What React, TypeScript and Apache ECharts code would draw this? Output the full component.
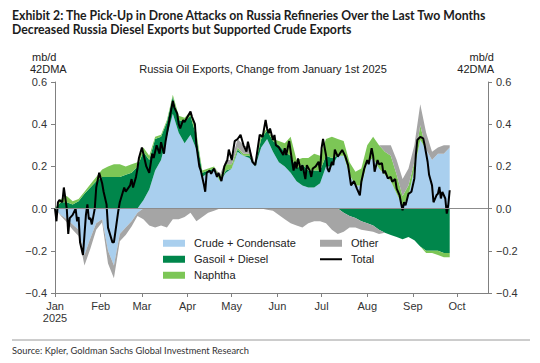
import React, { useEffect, useRef } from "react";
import * as echarts from "echarts";

// Days since 2025-01-01 for the stacked components (4-day grid)
const stackDays = [
  0, 4, 8, 12, 16, 20, 24, 28, 32, 36,
  40, 44, 48, 52, 56, 60, 64, 68, 72, 76,
  80, 84, 88, 92, 96, 100, 104, 108, 112, 116,
  120, 124, 128, 132, 136, 140, 144, 148, 152, 156,
  160, 164, 168, 172, 176, 180, 184, 188, 192, 196,
  200, 204, 208, 212, 216, 220, 224, 228, 232, 236,
  240, 244, 248, 252, 256, 260, 264, 268,
];

const crude = [
  0, -0.03, -0.05, -0.075, -0.1, -0.22, -0.14, -0.07, -0.05, -0.2,
  -0.27, -0.12, -0.09, -0.06, -0.02, 0.04, 0.09, 0.18, 0.23, 0.34,
  0.45, 0.36, 0.31, 0.35, 0.28, 0.15, 0.17, 0.18, 0.13, 0.17,
  0.19, 0.27, 0.25, 0.24, 0.2, 0.29, 0.33, 0.27, 0.22, 0.2,
  0.17, 0.13, 0.11, 0.1, 0.1, 0.12, 0.2, 0.2, 0.25, 0.25,
  0.16, 0.11, 0.11, 0.22, 0.24, 0.19, 0.16, 0.13, 0.07, 0.01,
  0.06, 0.19, 0.325, 0.28, 0.23, 0.26, 0.26, 0.29,
];

const gasoil = [
  0, 0.03, 0.03, 0.02, 0.035, 0.07, 0.1, 0.13, 0.15, 0.15,
  0.15, 0.15, 0.16, 0.17, 0.2, 0.23, 0.14, 0.15, 0.11, 0.07,
  0.08, 0.06, 0.1, 0.09, 0.06, 0.02, 0.01, 0.01, 0.0, 0.01,
  0.0, 0.01, 0.0, 0.01, 0.01, 0.04, 0.04, 0.05, 0.08, 0.07,
  0.08, 0.06, 0.1, 0.08, 0.08, 0.06, 0.05, 0.04, 0.0, -0.02,
  -0.035, -0.045, -0.06, -0.07, -0.08, -0.1, -0.115, -0.125, -0.135, -0.145,
  -0.135, -0.15, -0.18, -0.2, -0.2, -0.2, -0.21, -0.21,
];

const naphtha = [
  0, 0.015, 0.03, 0.015, 0.01, 0.01, 0.015, 0.02, 0.035, 0.05,
  0.06, 0.06, 0.04, 0.04, 0.02, 0.02, 0.02, 0.01, 0.01, 0.01,
  0.01, 0.02, 0.02, 0.02, 0.02, 0.01, 0.01, 0.01, 0.02, 0.03,
  0.02, 0.01, 0.01, 0.01, 0.0, 0.02, 0.01, 0.01, 0.02, 0.04,
  0.09, 0.04, 0.03, 0.06, 0.08, 0.07, 0.08, 0.1, 0.08, 0.07,
  0.06, 0.065, 0.08, 0.08, 0.1, 0.11, 0.11, 0.12, 0.09, 0.05,
  0.05, 0.03, 0.07, -0.01, -0.01, -0.02, -0.02, -0.02,
];

const other = [
  0, -0.005, -0.015, -0.025, -0.03, -0.05, -0.05, -0.03, -0.015, -0.06,
  -0.06, -0.035, -0.035, -0.025, -0.015, -0.05, -0.08, -0.09, -0.08, -0.09,
  -0.05, -0.05, -0.04, -0.02, -0.06, -0.04, -0.02, -0.01, 0.01, 0.02,
  0.02, 0.04, 0.04, 0.03, 0.0, 0.0, -0.005, -0.01, -0.03, -0.05,
  -0.07, -0.08, -0.09, -0.07, -0.06, -0.06, -0.07, -0.1, -0.12, -0.09,
  -0.055, -0.045, -0.04, -0.035, -0.03, -0.02, 0.03, 0.05, 0.07, 0.08,
  0.08, 0.08, 0.1, 0.08, 0.04, 0.03, 0.04, 0.01,
];

// Total line (days since 2025-01-01, value)
const totalDays = [
  0, 1, 2, 3, 5, 6, 8, 9, 10, 12,
  14, 15, 16, 17, 19, 20, 21, 22, 23, 24,
  25, 27, 28, 30, 32, 33, 35, 36, 39, 40,
  41, 43, 44, 47, 48, 51, 52, 53, 55, 56,
  57, 59, 60, 62, 64, 66, 67, 69, 71, 72,
  74, 75, 78, 80, 81, 83, 84, 85, 87, 88,
  90, 92, 93, 95, 96, 98, 99, 101, 102, 103,
  105, 106, 108, 110, 111, 113, 115, 117, 118, 120,
  122, 124, 126, 128, 130, 131, 132, 134, 136, 137,
  139, 141, 143, 144, 145, 146, 148, 149, 150, 152,
  155, 156, 157, 159, 161, 162, 163, 164, 165, 167,
  168, 170, 171, 173, 174, 175, 177, 179, 180, 181,
  182, 184, 185, 186, 188, 189, 190, 192, 195, 197,
  199, 201, 203, 205, 207, 208, 210, 212, 213, 215,
  216, 217, 219, 220, 222, 223, 224, 226, 228, 229,
  231, 232, 234, 235, 236, 237, 238, 240, 242, 244,
  245, 246, 248, 250, 251, 253, 254, 256, 257, 259,
  260, 261, 262, 263, 265, 266, 267, 268,
];

const totalValues = [
  0.0, -0.06, 0.03, 0.04, 0.03, 0.1, 0.0, -0.12, -0.045, -0.03,
  0.0, -0.06, -0.04, -0.16, -0.22, -0.125, -0.03, 0.02, -0.05, -0.045,
  -0.075, 0.0, 0.1, 0.17, 0.12, 0.08, 0.02, -0.09, -0.16, -0.16,
  -0.11, -0.01, 0.03, 0.1, 0.08, 0.11, 0.14, 0.1, 0.15, 0.19,
  0.24, 0.29, 0.26, 0.2, 0.17, 0.26, 0.24, 0.3, 0.26, 0.315,
  0.26, 0.315, 0.435, 0.51, 0.48, 0.45, 0.4, 0.38, 0.42, 0.41,
  0.435, 0.46, 0.435, 0.4, 0.3, 0.2, 0.18, 0.117, 0.08, 0.17,
  0.18, 0.165, 0.19, 0.15, 0.17, 0.13, 0.2, 0.23, 0.28, 0.23,
  0.32, 0.33, 0.35, 0.3, 0.27, 0.317, 0.286, 0.222, 0.206, 0.254,
  0.35, 0.34, 0.42, 0.38, 0.357, 0.38, 0.325, 0.349, 0.3, 0.29,
  0.254, 0.286, 0.254, 0.32, 0.222, 0.18, 0.222, 0.19, 0.238, 0.18,
  0.206, 0.14, 0.206, 0.18, 0.15, 0.19, 0.2, 0.222, 0.174, 0.286,
  0.33, 0.254, 0.19, 0.174, 0.222, 0.206, 0.28, 0.246, 0.278, 0.25,
  0.206, 0.11, 0.13, 0.095, 0.063, 0.127, 0.19, 0.23, 0.21, 0.286,
  0.25, 0.175, 0.23, 0.21, 0.215, 0.167, 0.18, 0.143, 0.15, 0.127,
  0.14, 0.095, 0.063, 0.024, -0.008, 0.03, 0.016, 0.07, 0.08, 0.143,
  0.254, 0.325, 0.34, 0.333, 0.3, 0.222, 0.16, 0.11, 0.03, 0.063,
  0.07, 0.103, 0.048, 0.079, 0.048, -0.024, 0.016, 0.087,
];

const monthNames = ["Jan", "Feb", "Mar", "Apr", "May", "Jun", "Jul", "Aug", "Sep", "Oct", "Nov", "Dec"];
const seriesNames = ["Crude + Condensate", "Gasoil + Diesel", "Naphtha", "Other", "Total"];
const seriesColors = ["#a9cfee", "#00864b", "#7cc656", "#a5a5a5", "#000000"];
const axisStartDay = 0;
const axisEndDay = 294;

const dayToTime = (d: number) => new Date(2025, 0, 1 + d).getTime();

const fmtY = (v: number) => {
  const s = Math.abs(v) < 1e-9 ? "0.0" : v.toFixed(1);
  return s.replace("-", "\u2212");
};

export default function App() {
  const ref = useRef<HTMLDivElement>(null);

  useEffect(() => {
    if (!ref.current) return;
    const chart = echarts.init(ref.current, undefined, { renderer: "svg" });

    // Each component is split into its positive and negative parts so the
    // positive and negative stacks never cross each other.
    const areaSeries = (name: string, vals: number[], color: string, sign: 1 | -1) => ({
      name,
      type: "line",
      stack: sign > 0 ? "pos" : "neg",
      data: stackDays.map((d, i) => [
        dayToTime(d),
        sign > 0 ? Math.max(vals[i], 0) : Math.min(vals[i], 0),
      ]),
      symbol: "none",
      showSymbol: false,
      lineStyle: { width: 0, color },
      itemStyle: { color },
      areaStyle: { color, opacity: 1 },
      z: 2,
    });

    const components: [string, number[], string][] = [
      [seriesNames[0], crude, seriesColors[0]],
      [seriesNames[1], gasoil, seriesColors[1]],
      [seriesNames[2], naphtha, seriesColors[2]],
      [seriesNames[3], other, seriesColors[3]],
    ];

    const yAxisBase = {
      type: "value",
      min: -0.4,
      max: 0.6,
      interval: 0.2,
      axisLine: { show: true, lineStyle: { color: "#808080", width: 1 } },
      axisTick: { show: true, length: 4, inside: false, lineStyle: { color: "#808080" } },
      splitLine: { show: false },
      axisLabel: {
        formatter: fmtY,
        color: "#333",
        fontSize: 11,
        fontFamily: "Liberation Sans",
        margin: 8,
      },
    };

    const labelFont = "11px 'Liberation Sans'";
    const legendText = {
      fontSize: 11,
      color: "#222",
      fontFamily: "Liberation Sans",
      lineHeight: 12.5,
      padding: [0, 0, 0, 4],
    };

    chart.setOption({
      animation: false,
      backgroundColor: "#ffffff",
      grid: { left: 55, right: 52, top: 82, bottom: 70, containLabel: false },
      xAxis: {
        type: "time",
        min: dayToTime(axisStartDay),
        max: dayToTime(axisEndDay),
        splitNumber: 10,
        minInterval: 28 * 86400000,
        axisLine: { show: true, onZero: false, lineStyle: { color: "#808080", width: 1 } },
        axisTick: { show: true, length: 4, lineStyle: { color: "#808080" } },
        splitLine: { show: false },
        axisLabel: {
          color: "#333",
          fontSize: 11,
          fontFamily: "Liberation Sans",
          lineHeight: 12,
          margin: 7,
          hideOverlap: false,
          formatter: (val: number) => {
            const d = new Date(val);
            if (d.getDate() !== 1) return "";
            const m = d.getMonth();
            return m === 0 ? "Jan\n2025" : monthNames[m];
          },
        },
      },
      yAxis: [
        { ...yAxisBase, position: "left" },
        { ...yAxisBase, position: "right" },
      ],
      legend: [
        {
          data: [
            { name: seriesNames[0], icon: "rect" },
            { name: seriesNames[1], icon: "rect" },
            { name: seriesNames[2], icon: "rect" },
          ],
          orient: "vertical",
          left: 163,
          top: 237,
          padding: 0,
          itemWidth: 22,
          itemHeight: 7,
          itemGap: 3.5,
          selectedMode: false,
          textStyle: legendText,
        },
        {
          data: [{ name: seriesNames[3], icon: "rect" }],
          orient: "vertical",
          left: 320,
          top: 237,
          padding: 0,
          itemWidth: 22,
          itemHeight: 7,
          selectedMode: false,
          textStyle: legendText,
        },
        {
          data: [{ name: seriesNames[4], icon: "rect" }],
          orient: "vertical",
          left: 320,
          top: 253,
          padding: 0,
          itemWidth: 22,
          itemHeight: 2,
          selectedMode: false,
          textStyle: legendText,
        },
      ],
      series: [
        ...components.map(([n, v, c]) => areaSeries(n, v, c, 1)),
        ...components.map(([n, v, c]) => areaSeries(n, v, c, -1)),
        {
          name: seriesNames[4],
          type: "line",
          data: totalDays.map((d, i) => [dayToTime(d), totalValues[i]]),
          symbol: "none",
          showSymbol: false,
          lineStyle: { color: seriesColors[4], width: 2 },
          itemStyle: { color: seriesColors[4] },
          z: 4,
          markLine: {
            silent: true,
            symbol: "none",
            label: { show: false },
            lineStyle: { color: "#8c8c8c", width: 1.2, type: "solid" },
            data: [{ yAxis: 0 }],
          },
        },
      ],
      graphic: [
        {
          type: "text",
          x: 12,
          y: 15,
          style: {
            text: "Exhibit 2: The Pick-Up in Drone Attacks on Russia Refineries Over the Last Two Months",
            font: "bold 12.25px Lato",
            fill: "#1c1c1c",
            textVerticalAlign: "middle",
          },
        },
        {
          type: "text",
          x: 12,
          y: 29,
          style: {
            text: "Decreased Russia Diesel Exports but Supported Crude Exports",
            font: "bold 12.25px Lato",
            fill: "#1c1c1c",
            textVerticalAlign: "middle",
          },
        },
        { type: "text", x: 32, y: 57, style: { text: "mb/d", font: labelFont, fill: "#222", textVerticalAlign: "middle" } },
        { type: "text", x: 30, y: 69, style: { text: "42DMA", font: labelFont, fill: "#222", textVerticalAlign: "middle" } },
        { type: "text", x: 494, y: 57, style: { text: "mb/d", font: labelFont, fill: "#222", textAlign: "right", textVerticalAlign: "middle" } },
        { type: "text", x: 494, y: 69, style: { text: "42DMA", font: labelFont, fill: "#222", textAlign: "right", textVerticalAlign: "middle" } },
        {
          type: "text",
          x: 263,
          y: 69,
          style: {
            text: "Russia Oil Exports, Change from January 1st 2025",
            font: labelFont,
            fill: "#222",
            textAlign: "center",
            textVerticalAlign: "middle",
          },
        },
        {
          type: "line",
          shape: { x1: 12, y1: 340, x2: 530, y2: 340 },
          style: { stroke: "#9a9a9a", lineWidth: 1 },
        },
        {
          type: "text",
          x: 12,
          y: 350,
          style: {
            text: "Source: Kpler, Goldman Sachs Global Investment Research",
            font: "9.3px Lato",
            fill: "#333",
            textVerticalAlign: "middle",
          },
        },
      ],
    });

    return () => chart.dispose();
  }, []);

  return (
    <div
      ref={ref}
      style={{ position: "fixed", left: 0, top: 0, width: 540, height: 363, background: "#fff" }}
    />
  );
}
